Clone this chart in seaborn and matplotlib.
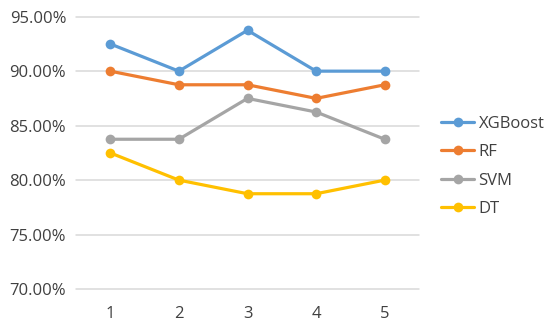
import numpy as np
import pandas as pd
import matplotlib.pyplot as plt
import seaborn as sns
from matplotlib.ticker import PercentFormatter

# data
folds = [1, 2, 3, 4, 5]
xgboost = [92.50, 90.00, 93.75, 90.00, 90.00]
rf = [90.00, 88.75, 88.75, 87.50, 88.75]
svm = [83.75, 83.75, 87.50, 86.25, 83.75]
dt = [82.50, 80.00, 78.75, 78.75, 80.00]
models = ['XGBoost', 'RF', 'SVM', 'DT']
colors = ['#5B9BD5', '#ED7D31', '#A5A5A5', '#FFC000']

df = pd.DataFrame({
    'fold': folds * 4,
    'acc': xgboost + rf + svm + dt,
    'model': np.repeat(models, len(folds)),
})

sns.set_style('white')
plt.rcParams['font.family'] = ['Open Sans', 'DejaVu Sans']

fig = plt.figure(figsize=(5.5, 3.27), dpi=100)
ax = fig.add_axes([0.138, 0.116, 0.624, 0.833])

sns.lineplot(data=df, x='fold', y='acc', hue='model', hue_order=models,
             palette=colors, marker='o', markersize=7, markeredgewidth=0,
             linewidth=2.3, ax=ax)

ax.set_xlim(0.5, 5.5)
ax.set_ylim(70, 95)
ax.set_yticks(np.arange(70, 96, 5))
ax.set_xticks(folds)
ax.yaxis.set_major_formatter(PercentFormatter(decimals=2))
ax.grid(axis='y', color='#D9D9D9', linewidth=1.1)
for gl in ax.get_ygridlines():
    gl.set_clip_on(False)
ax.set_axisbelow(True)
for s in ax.spines.values():
    s.set_visible(False)
ax.tick_params(axis='both', length=0, labelsize=12, colors='#404040')
ax.tick_params(axis='x', pad=12)
ax.tick_params(axis='y', pad=7)
ax.set_xlabel('')
ax.set_ylabel('')

ax.legend(loc='center left', bbox_to_anchor=(1.02, 0.45), frameon=False,
          fontsize=12, handlelength=2.0, labelspacing=0.75,
          handletextpad=0.25, labelcolor='#404040')

fig.savefig('out.png', dpi=100)
